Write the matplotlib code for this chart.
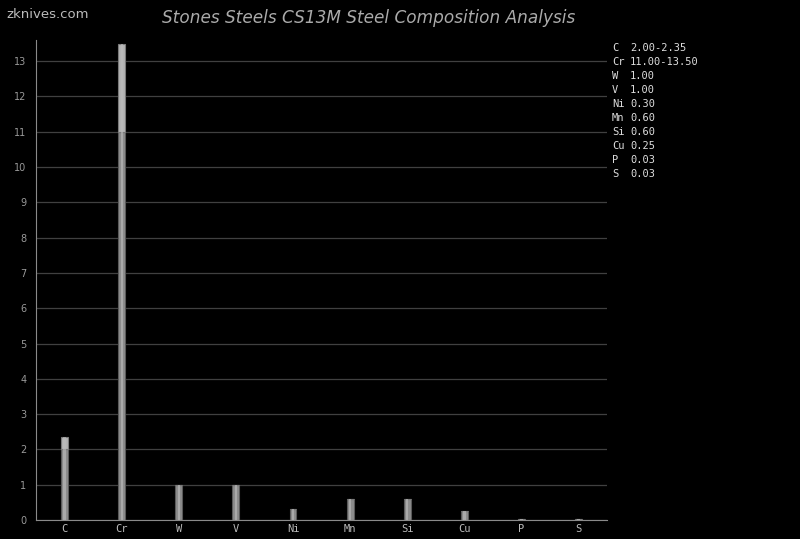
import matplotlib
matplotlib.use('Agg')
import matplotlib.pyplot as plt

# composition data (min / max in %)
elements = ['C', 'Cr', 'W', 'V', 'Ni', 'Mn', 'Si', 'Cu', 'P', 'S']
comp_min = [2.00, 11.00, 1.00, 1.00, 0.30, 0.60, 0.60, 0.25, 0.03, 0.03]
comp_max = [2.35, 13.50, 1.00, 1.00, 0.30, 0.60, 0.60, 0.25, 0.03, 0.03]
legend_txt = ['2.00-2.35', '11.00-13.50', '1.00', '1.00', '0.30', '0.60', '0.60', '0.25', '0.03', '0.03']
yticks = list(range(0, 14))

fig = plt.figure(figsize=(8, 5.39), dpi=100, facecolor='black')
ax = fig.add_axes([0.045, 0.0353, 0.714, 0.8905], facecolor='black')

xpos = [i + 0.5 for i in range(len(elements))]
# lower part (min) darker, range part lighter
ax.bar(xpos, comp_min, width=0.12, color='#8c8c8c', edgecolor='#5a5a5a', linewidth=0.8, zorder=3)
ax.bar(xpos, [mx - mn for mn, mx in zip(comp_min, comp_max)], bottom=comp_min,
       width=0.12, color='#b4b4b4', edgecolor='#7a7a7a', linewidth=0.8, zorder=3)
# light center stripe
ax.bar(xpos, comp_max, width=0.04, color='#bdbdbd', linewidth=0, alpha=0.6, zorder=4)

ax.set_xlim(0, 10)
ax.set_ylim(0, 13.6)
ax.set_yticks(yticks)
ax.set_xticks(xpos)
ax.set_xticklabels(elements, family='DejaVu Sans Mono', fontsize=7.5, color='#bbbbbb')
ax.tick_params(axis='y', colors='#999999', labelsize=7, length=0, pad=7)
ax.tick_params(axis='x', length=0, pad=3)
ax.grid(axis='y', color='#404040', linewidth=0.9, zorder=0)
for s in ['top', 'right']:
    ax.spines[s].set_visible(False)
ax.spines['left'].set_color('#8a8a8a')
ax.spines['bottom'].set_color('#8a8a8a')

# element legend on the right
for i, (el, txt) in enumerate(zip(elements, legend_txt)):
    y = 48 + 14 * i
    fig.text(612 / 800, 1 - y / 539, el, family='DejaVu Sans Mono', fontsize=7.5,
             color='#dddddd', va='center', ha='left')
    fig.text(630 / 800, 1 - y / 539, txt, family='DejaVu Sans Mono', fontsize=7.5,
             color='#dddddd', va='center', ha='left')

fig.text(369 / 800, 1 - 18 / 539, 'Stones Steels CS13M Steel Composition Analysis',
         fontsize=12.2, style='italic', color='#aaaaaa', ha='center', va='center')
fig.text(6 / 800, 1 - 15 / 539, 'zknives.com', fontsize=9.5, color='#bbbbbb',
         ha='left', va='center')

plt.savefig('out.png', dpi=100, facecolor='black')
plt.close()
